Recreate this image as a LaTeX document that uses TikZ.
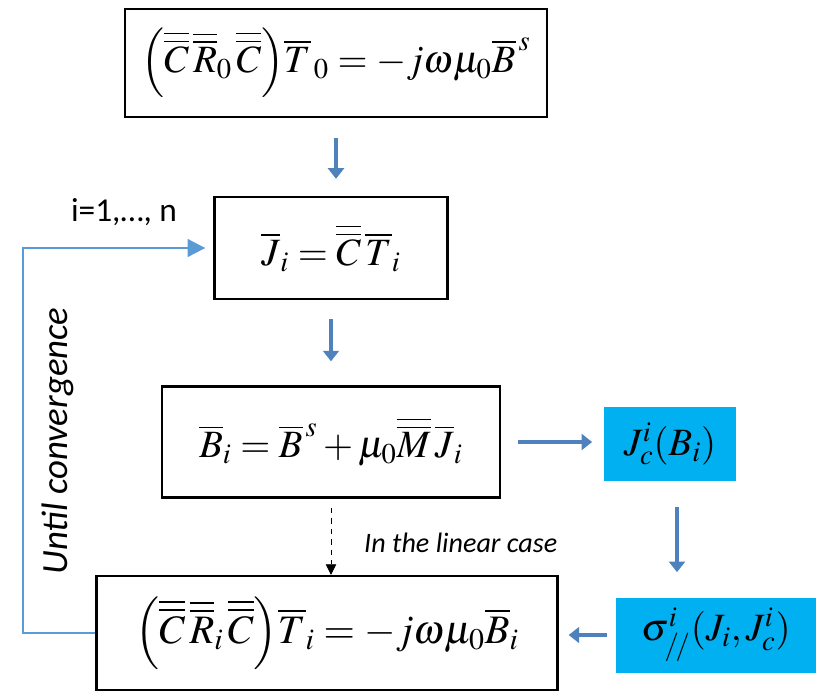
\documentclass[tikz,border=0pt]{standalone}
\usepackage{amsmath}
\usepackage{mathptmx}
\usepackage{fontspec}
\setmainfont{Liberation Serif}
\newfontfamily\calibri{Carlito}
\usetikzlibrary{arrows.meta}
\definecolor{flowblue}{HTML}{4F81BD}
\definecolor{loopblue}{HTML}{5B9BD5}
\definecolor{critcyan}{HTML}{00B0F0}
\newcommand{\dbar}[1]{\overline{\overline{#1}}}

\begin{document}
\begin{tikzpicture}[x=0.02cm,y=-0.02cm,
    eqbox/.style={draw,line width=1.4pt,inner sep=0pt,font=\fontsize{22}{26}\selectfont},
    critbox/.style={fill=critcyan,inner sep=0pt,font=\fontsize{22}{26}\selectfont},
    flowarrow/.style={flowblue,line width=2.6pt,-{Triangle[length=6pt,width=9pt]}},
    looparrow/.style={loopblue,line width=1.2pt,-{Triangle[length=10pt,width=10pt]}}]
  \useasboundingbox (0,0) rectangle (825,694);
  \node[eqbox,minimum width=8.44cm,minimum height=2.16cm] (eqinit) at (336,63)
    {$\Bigl(\dbar{C}\,\dbar{R}_0\,\dbar{C}\Bigr)\overline{T}_{\,0}=-j\omega\mu_0\overline{B}^{\,s}$};
  \node[eqbox,minimum width=4.66cm,minimum height=2.04cm] (eqcurrent) at (331,248)
    {$\overline{J}_i=\dbar{C}\,\overline{T}_i$};
  \node[eqbox,minimum width=6.76cm,minimum height=2.22cm] (eqfield) at (331,442)
    {$\overline{B}_i=\overline{B}^{\,s}+\mu_0\dbar{M}\,\overline{J}_i$};
  \node[eqbox,minimum width=9.22cm,minimum height=2.28cm,font=\fontsize{23}{27}\selectfont] (eqsystem) at (327,633)
    {$\Bigl(\dbar{C}\,\dbar{R}_i\,\dbar{C}\Bigr)\overline{T}_i=-j\omega\mu_0\overline{B}_i$};
  \node[critbox,minimum width=2.66cm,minimum height=1.48cm] (eqcrit) at (670,444)
    {$J_c^i(B_i)$};
  \node[critbox,minimum width=4.02cm,minimum height=1.5cm] (eqsigma) at (716,635)
    {$\sigma_{/\!/}^i(J_i,J_c^i)$};

  \draw[flowarrow,shorten <=0.4cm,shorten >=0.34cm] (eqinit.south) -- (eqinit.south |- eqcurrent.north);
  \draw[flowarrow,shorten <=0.38cm,shorten >=0.48cm] (eqcurrent.south) -- (eqcurrent.south |- eqfield.north);
  \draw[flowarrow,shorten <=0.34cm,shorten >=0.22cm] (eqfield.east) -- (eqfield.east -| eqcrit.west);
  \draw[flowarrow,shorten <=0.52cm,shorten >=0.5cm] ([xshift=0.14cm]eqcrit.south) -- ([xshift=0.14cm]eqcrit.south |- eqsigma.north);
  \draw[flowarrow,shorten <=0.16cm,shorten >=0.2cm] (eqsigma.west) -- (eqsigma.west -| eqsystem.east);
  \draw[dashed,thin,-{Triangle[length=6pt,width=6pt]},shorten <=0.18cm] (eqfield.south) -- (eqfield.south |- eqsystem.north);
  \node[font=\calibri\itshape\fontsize{16}{18}\selectfont,anchor=west] (lincase) at (358,543) {In the linear case};

  % iteration loop
  \draw[looparrow,shorten >=0.16cm] (eqsystem.west) -- ++(-72,0) |- (eqcurrent.west);
  \node[font=\calibri\fontsize{19}{22}\selectfont] (iterlabel) at (124,212) {i=1,…, n};
  \node[font=\calibri\itshape\fontsize{21}{24}\selectfont,rotate=90] (convlabel) at (58,441) {Until convergence};
\end{tikzpicture}
\end{document}
